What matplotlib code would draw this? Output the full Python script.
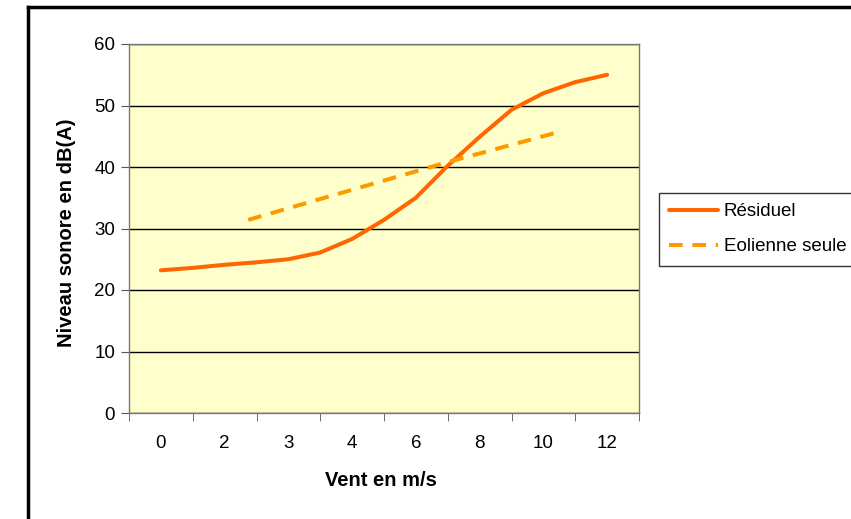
import matplotlib
matplotlib.use("Agg")
import matplotlib.pyplot as plt
from matplotlib.lines import Line2D

plt.rcParams['font.family'] = ['Liberation Sans', 'DejaVu Sans']

# Data (category axis: wind speed labels)
vent_labels = ["0", "2", "3", "4", "6", "8", "10", "12"]

# Résiduel: read at half-category steps
residuel_pos = [0, 0.5, 1, 1.5, 2, 2.5, 3, 3.5, 4, 4.5, 5, 5.5, 6, 6.5, 7]
residuel = [23.2, 23.6, 24.1, 24.5, 25.0, 26.1, 28.3, 31.4, 35.0, 40.2, 44.9, 49.3, 52.0, 53.8, 55.0]

# Eolienne seule
eolienne_pos = [1.37, 4.5, 6.28]
eolienne = [31.4, 40.8, 45.8]

fig = plt.figure(figsize=(8.51, 5.19), dpi=100)
ax = fig.add_axes([129 / 851, 1 - 413 / 519, 510 / 851, 369 / 519])
ax.set_facecolor('#FFFFCC')

ax.plot(residuel_pos, residuel, color='#FF6600', lw=2.9, solid_capstyle='round',
        label='Résiduel')
ax.plot(eolienne_pos, eolienne, color='#FF9900', lw=2.9, dashes=(3.4, 2.4),
        label='Eolienne seule')

ax.set_xlim(-0.5, len(vent_labels) - 0.5)
ax.set_ylim(0, 60)
ax.set_yticks(range(0, 61, 10))
ax.set_xticks(range(len(vent_labels)))
ax.set_xticklabels(vent_labels)
ax.set_xticks([i - 0.5 for i in range(len(vent_labels) + 1)], minor=True)
ax.tick_params(axis='x', which='major', length=0, labelsize=13.5, pad=16)
ax.tick_params(axis='x', which='minor', length=6, color='#555555')
ax.tick_params(axis='y', length=6, color='#555555', labelsize=13.5, pad=4)

ax.grid(axis='y', color='black', lw=1)
ax.set_axisbelow(True)
for s in ax.spines.values():
    s.set_color('#777777')
    s.set_linewidth(1)

fig.text(381 / 851, 1 - 481 / 519, "Vent en m/s", ha='center', va='center',
         fontsize=14.5, fontweight='bold')
fig.text(67 / 851, 1 - 233 / 519, "Niveau sonore en dB(A)", ha='center', va='center',
         rotation=90, fontsize=14.5, fontweight='bold')

leg = fig.legend(loc='upper left', bbox_to_anchor=(659 / 851, 1 - 193 / 519),
                 fontsize=13.5, frameon=True, fancybox=False, handlelength=2.6,
                 handletextpad=0.3, borderpad=0.55, labelspacing=0.95,
                 borderaxespad=0)
leg.get_frame().set_edgecolor('black')
leg.get_frame().set_linewidth(1)

# outer chart border (cut by image edge)
fig.add_artist(Line2D([28 / 851, 28 / 851], [1 - 7 / 519, -0.1], color='black', lw=2.5,
                      transform=fig.transFigure))
fig.add_artist(Line2D([28 / 851, 1.1], [1 - 7 / 519, 1 - 7 / 519], color='black', lw=2.5,
                      transform=fig.transFigure))

fig.savefig("out.png", dpi=100)
plt.close(fig)
